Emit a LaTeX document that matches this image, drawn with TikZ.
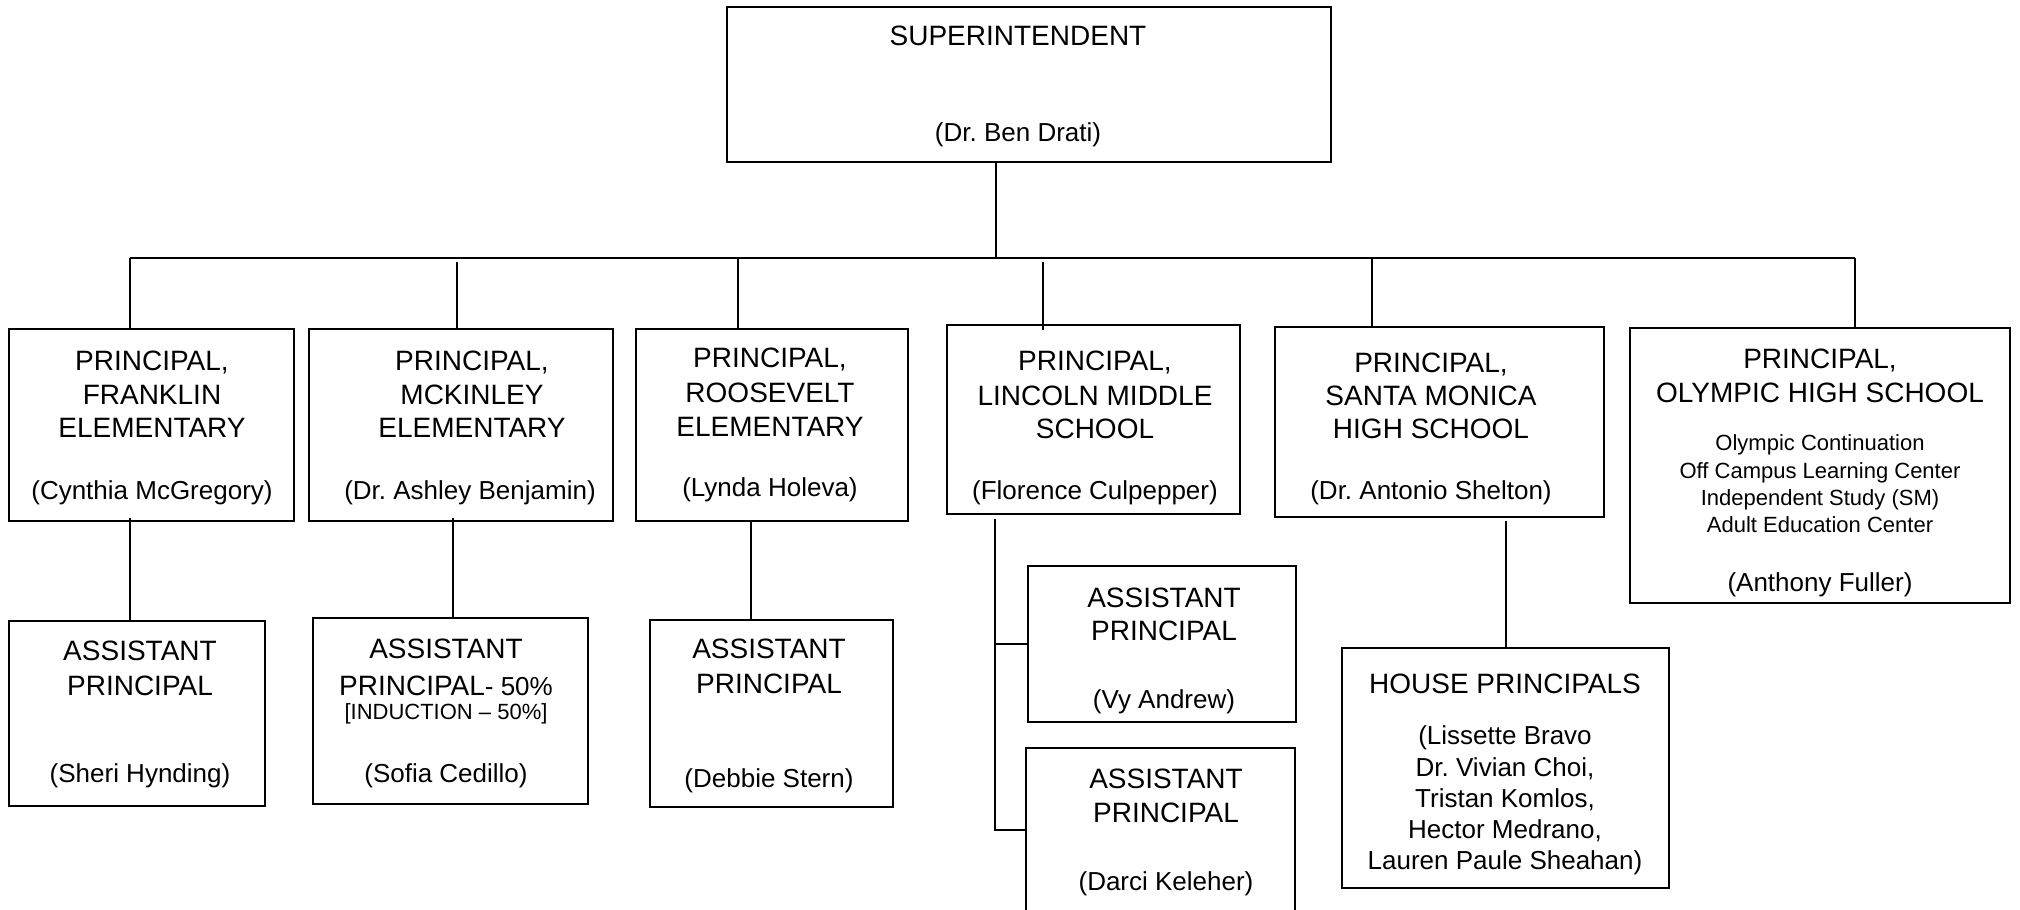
\documentclass[tikz,border=0pt]{standalone}
\usepackage{fontspec}
\setmainfont{Liberation Sans}
\newcommand\orgbox[5]{\node[box, minimum width={(#4-#2)*0.5pt}, minimum height={(#5-#3)*0.5pt}] (#1) at ({(#2+#4)/2},{(#3+#5)/2}) {};}
\begin{document}
\frenchspacing
\begin{tikzpicture}[x=0.5pt,y=-0.5pt,
  box/.style={draw, line width=1.2pt, inner sep=0pt, outer sep=0pt},
  con/.style={line width=1pt},
  hd/.style={font=\fontsize{14}{17}\selectfont, anchor=base, inner sep=0pt},
  nm/.style={font=\fontsize{13}{15}\selectfont, anchor=base, inner sep=0pt},
  sm/.style={font=\fontsize{11}{13}\selectfont, anchor=base, inner sep=0pt}]
\useasboundingbox (0,0) rectangle (2020,910);
\clip (0,0) rectangle (2020,910);

% boxes
\orgbox{sup}{727}{7}{1331}{162}
\orgbox{fr}{9}{329}{294}{521}
\orgbox{mk}{309}{329}{613}{521}
\orgbox{ro}{636}{329}{908}{521}
\orgbox{li}{947}{325}{1240}{514}
\orgbox{sm}{1275}{327}{1604}{517}
\orgbox{ol}{1630}{328}{2010}{603}
\orgbox{apa}{9}{621}{265}{806}
\orgbox{apb}{313}{618}{588}{804}
\orgbox{apc}{650}{620}{893}{807}
\orgbox{laa}{1028}{566}{1296}{722}
\orgbox{lab}{1026}{748}{1295}{912}
\orgbox{ho}{1342}{648}{1669}{888}

% texts
\node[hd] (t01) at (1018,46) {SUPERINTENDENT};
\node[nm] (t02) at (1018,141) {(Dr. Ben Drati)};

\node[hd] (t03) at (152,370) {PRINCIPAL,};
\node[hd] (t04) at (152,404) {FRANKLIN};
\node[hd] (t05) at (152,437) {ELEMENTARY};
\node[nm] (t06) at (152,499) {(Cynthia McGregory)};

\node[hd] (t07) at (472,370) {PRINCIPAL,};
\node[hd] (t08) at (472,404) {MCKINLEY};
\node[hd] (t09) at (472,437) {ELEMENTARY};
\node[nm] (t10) at (470,499) {(Dr. Ashley Benjamin)};

\node[hd] (t11) at (770,367) {PRINCIPAL,};
\node[hd] (t12) at (770,402) {ROOSEVELT};
\node[hd] (t13) at (770,436) {ELEMENTARY};
\node[nm] (t14) at (770,496) {(Lynda Holeva)};

\node[hd] (t15) at (1095,370) {PRINCIPAL,};
\node[hd] (t16) at (1095,405) {LINCOLN MIDDLE};
\node[hd] (t17) at (1095,438) {SCHOOL};
\node[nm] (t18) at (1095,499) {(Florence Culpepper)};

\node[hd] (t19) at (1431,372) {PRINCIPAL,};
\node[hd] (t20) at (1431,405) {SANTA MONICA};
\node[hd] (t21) at (1431,438) {HIGH SCHOOL};
\node[nm] (t22) at (1431,499) {(Dr. Antonio Shelton)};

\node[hd] (t23) at (1820,368) {PRINCIPAL,};
\node[hd] (t24) at (1820,402) {OLYMPIC HIGH SCHOOL};
\node[sm] (t25) at (1820,450) {Olympic Continuation};
\node[sm] (t26) at (1820,478) {Off Campus Learning Center};
\node[sm] (t27) at (1820,505) {Independent Study (SM)};
\node[sm] (t28) at (1820,532) {Adult Education Center};
\node[nm] (t29) at (1820,591) {(Anthony Fuller)};

\node[hd] (t30) at (140,660) {ASSISTANT};
\node[hd] (t31) at (140,695) {PRINCIPAL};
\node[nm] (t32) at (140,782) {(Sheri Hynding)};

\node[hd] (t33) at (446,658) {ASSISTANT};
\node[hd] (t34) at (446,695) {PRINCIPAL\fontsize{13}{15}\selectfont- 50\%};
\node[sm] (t35) at (446,719) {[INDUCTION -- 50\%]};
\node[nm] (t36) at (446,782) {(Sofia Cedillo)};

\node[hd] (t37) at (769,658) {ASSISTANT};
\node[hd] (t38) at (769,693) {PRINCIPAL};
\node[nm] (t39) at (769,787) {(Debbie Stern)};

\node[hd] (t40) at (1164,607) {ASSISTANT};
\node[hd] (t41) at (1164,640) {PRINCIPAL};
\node[nm] (t42) at (1164,708) {(Vy Andrew)};

\node[hd] (t43) at (1166,788) {ASSISTANT};
\node[hd] (t44) at (1166,822) {PRINCIPAL};
\node[nm] (t45) at (1166,890) {(Darci Keleher)};

\node[hd] (t46) at (1505,693) {HOUSE PRINCIPALS};
\node[nm] (t47) at (1505,744) {(Lissette Bravo};
\node[nm] (t48) at (1505,776) {Dr. Vivian Choi,};
\node[nm] (t49) at (1505,807) {Tristan Komlos,};
\node[nm] (t50) at (1505,838) {Hector Medrano,};
\node[nm] (t51) at (1505,869) {Lauren Paule Sheahan)};

% connectors
\coordinate (bL) at (130,258);
\coordinate (bR) at (1855,258);
\coordinate (sd) at (996,258);
\draw[con] (bL) -- (bR);
\draw[con] (sd |- sup.south) -- (sd);

\coordinate (d1) at (130,258);
\coordinate (d2) at (457,262);
\coordinate (d3) at (738,258);
\coordinate (d4) at (1043,262);
\coordinate (d5) at (1372,258);
\coordinate (d6) at (1855,258);
\draw[con] (d1) -- (d1 |- fr.north);
\draw[con] (d2) -- (d2 |- mk.north);
\draw[con] (d3) -- (d3 |- ro.north);
\draw[con] (d4) -- ([yshift=-2.5pt]d4 |- li.north);
\draw[con] (d5) -- (d5 |- sm.north);
\draw[con] (d6) -- (d6 |- ol.north);

\coordinate (c1) at (130,518);
\coordinate (c2) at (453,518);
\coordinate (c3) at (751,521);
\coordinate (c4) at (995,519);
\coordinate (c5) at (1506,521);
\draw[con] (c1) -- (c1 |- apa.north);
\draw[con] (c2) -- (c2 |- apb.north);
\draw[con] (c3) -- (c3 |- apc.north);
\draw[con] (c4) -- (c4 |- lab.west) -- (lab.west);
\draw[con] (c4 |- laa.west) -- (laa.west);
\draw[con] (c5) -- (c5 |- ho.north);
\end{tikzpicture}
\end{document}
